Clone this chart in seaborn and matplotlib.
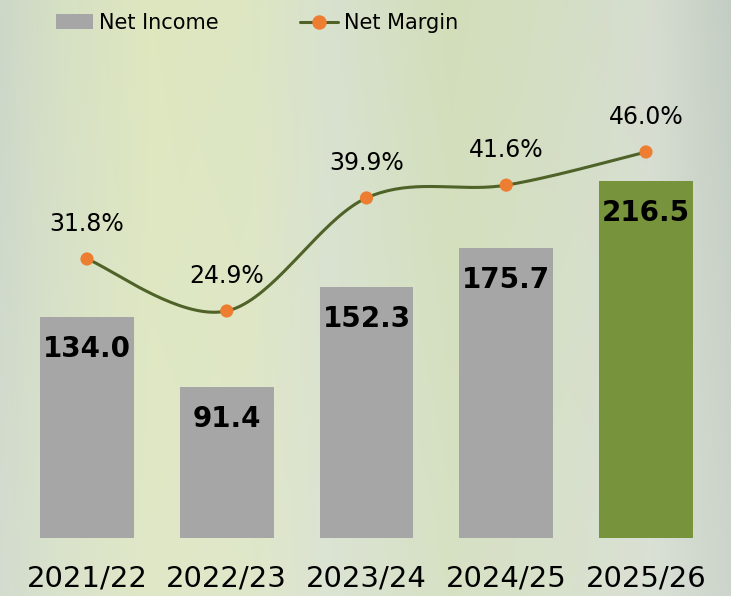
import numpy as np
import pandas as pd
import matplotlib
matplotlib.use('Agg')
import matplotlib.pyplot as plt
import seaborn as sns
from matplotlib.lines import Line2D
from matplotlib.patches import Patch

# data
years = ['2021/22', '2022/23', '2023/24', '2024/25', '2025/26']
net_income = [134.0, 91.4, 152.3, 175.7, 216.5]
net_margin = [31.8, 24.9, 39.9, 41.6, 46.0]

bar_colors = ['#a6a6a6', '#a6a6a6', '#a6a6a6', '#a6a6a6', '#77933c']
line_color = '#4f6228'
marker_color = '#ed7d31'

sns.set_theme(style='white')
plt.rcParams['font.family'] = ['DejaVu Sans']
plt.rcParams['text.color'] = 'black'

W, H = 731, 596
fig = plt.figure(figsize=(W / 100, H / 100), dpi=100)

# soft blurred-plant look for the background
bx = [0, 60, 150, 250, 330, 450, 560, 650, 731]
bcols = np.array([(205, 215, 200), (214, 224, 196), (222, 231, 190), (221, 230, 194),
                  (216, 225, 206), (210, 222, 186), (212, 222, 196), (214, 221, 208),
                  (196, 205, 196)]) / 255.0
cols = np.arange(W)
row = np.stack([np.interp(cols, bx, bcols[:, k]) for k in range(3)], axis=-1)
vy = np.linspace(0, 1, H)[:, None, None]
img = row[None, :, :] * (1 - 0.25 * vy) + np.array([0.90, 0.92, 0.89]) * 0.25 * vy
bg = fig.add_axes([0, 0, 1, 1])
bg.imshow(np.clip(img, 0, 1), aspect='auto', extent=[0, 1, 0, 1])
bg.axis('off')

ax = fig.add_axes([0, 58 / H, 1, 538 / H])
ax.patch.set_alpha(0)

df = pd.DataFrame({'year': years, 'income': net_income})
sns.barplot(data=df, x='year', y='income', hue='year', palette=bar_colors,
            width=0.67, saturation=1, legend=False, linewidth=0, ax=ax)

px = 139.75
ax.set_xlim(-87 / px, 4 + (W - 646) / px)
ax.set_ylim(0, 538 / 1.649)
for s in ax.spines.values():
    s.set_visible(False)
ax.set_yticks([])
ax.set_xlabel('')
ax.set_ylabel('')
ax.tick_params(axis='x', length=0, pad=19, labelsize=21, colors='black')

for i, v in enumerate(net_income):
    ax.annotate(f'{v:.1f}', (i, v), xytext=(0, -23), textcoords='offset points',
                ha='center', va='center', fontsize=20, fontweight='bold', color='black')

# margin line on second axis
ax2 = ax.twinx()
ax2.set_ylim(-5.23, 66.17)
ax2.set_yticks([])
for s in ax2.spines.values():
    s.set_visible(False)

# smoothed path through the points (Excel-like bezier)
pts = np.column_stack([np.arange(len(net_margin)), net_margin]).astype(float)
ext = np.vstack([pts[0], pts, pts[-1]])
path = []
t = np.linspace(0, 1, 40)[:, None]
for k in range(len(pts) - 1):
    p0, p1, p2, p3 = ext[k], ext[k + 1], ext[k + 2], ext[k + 3]
    c1 = p1 + (p2 - p0) / 6
    c2 = p2 - (p3 - p1) / 6
    seg = ((1 - t) ** 3) * p1 + 3 * ((1 - t) ** 2) * t * c1 + 3 * (1 - t) * t ** 2 * c2 + t ** 3 * p2
    path.append(seg)
path = np.vstack(path)
ax2.plot(path[:, 0], path[:, 1], color=line_color, lw=2.2, solid_capstyle='round', zorder=3)
sns.scatterplot(x=list(range(len(net_margin))), y=net_margin, ax=ax2, color=marker_color,
                s=90, edgecolor='none', zorder=5, legend=False)

for i, v in enumerate(net_margin):
    ax2.annotate(f'{v:.1f}%', (i, v), xytext=(0, 25), textcoords='offset points',
                 ha='center', va='center', fontsize=17, color='black')

handles = [Patch(facecolor='#a6a6a6', edgecolor='none', label='Net Income'),
           Line2D([], [], color=line_color, lw=2.2, marker='o', markersize=9.4,
                  markerfacecolor=marker_color, markeredgecolor=marker_color, label='Net Margin')]
leg = fig.legend(handles=handles, loc='center', bbox_to_anchor=(257 / W, 1 - 23 / H), ncol=2,
                 frameon=False, fontsize=15, handlelength=1.8, handletextpad=0.3, columnspacing=3.9)
for txt in leg.get_texts():
    txt.set_color('black')

fig.savefig('out.png', dpi=100)
